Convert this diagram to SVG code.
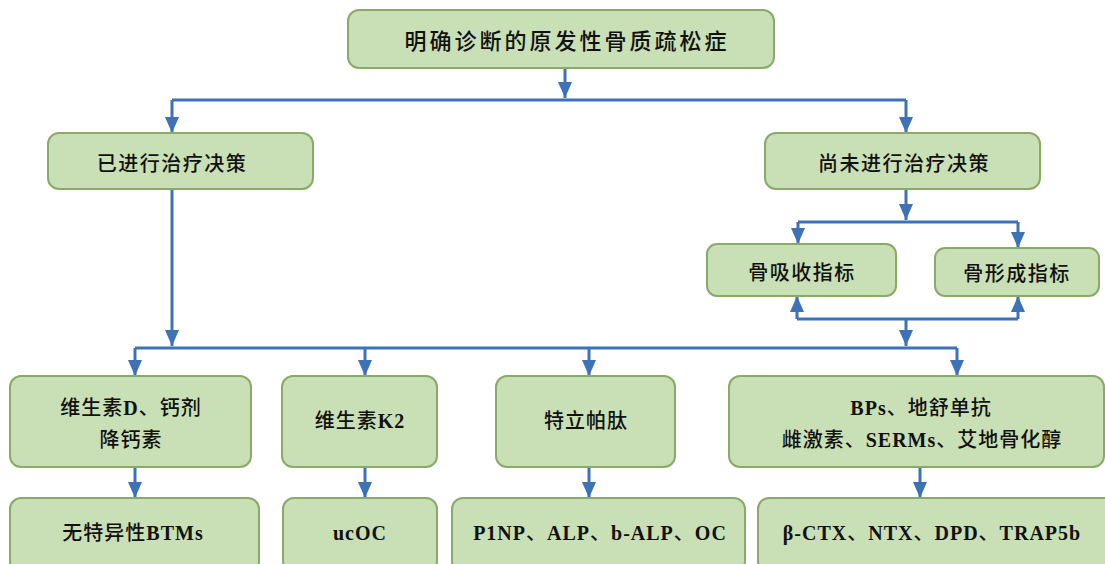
<svg xmlns="http://www.w3.org/2000/svg" width="1105" height="564" viewBox="0 0 1105 564">
<defs>
<style>
.box{fill:#c9dfb5;stroke:#8aaa69;stroke-width:2}
.t{font-family:"Liberation Serif","Noto Sans CJK SC",serif;font-size:20px;fill:#111;text-anchor:middle;dominant-baseline:central;letter-spacing:1px;font-weight:500}
.h{font-family:"Noto Sans CJK SC","Liberation Sans",sans-serif;font-size:20px;fill:#111;text-anchor:middle;dominant-baseline:central;letter-spacing:1.5px;font-weight:500}
.b{font-weight:bold}
.c{fill:none;stroke:#3d73b6;stroke-width:3}
</style>
<marker id="ah" markerUnits="userSpaceOnUse" markerWidth="14" markerHeight="16" viewBox="0 0 14 16" refX="7" refY="16" orient="auto-start-reverse">
<path d="M0,0 L14,0 L7,16 Z" fill="#3d73b6" transform="rotate(0)"/>
</marker>
<marker id="ar" markerUnits="userSpaceOnUse" markerWidth="16" markerHeight="14" viewBox="0 0 16 14" refX="16" refY="7" orient="auto">
<path d="M0,0 L16,7 L0,14 Z" fill="#3d73b6"/>
</marker>
</defs>
<rect width="1105" height="564" fill="#ffffff"/>
<g id="connectors">
<path class="c" d="M565,68 V98" marker-end="url(#ar)"/>
<path class="c" d="M172,100 H906"/>
<path class="c" d="M172,100 V133" marker-end="url(#ar)"/>
<path class="c" d="M906,100 V133" marker-end="url(#ar)"/>
<path class="c" d="M906,189 V220" marker-end="url(#ar)"/>
<path class="c" d="M798,222 H1018"/>
<path class="c" d="M798,222 V244" marker-end="url(#ar)"/>
<path class="c" d="M1018,222 V248" marker-end="url(#ar)"/>
<path class="c" d="M797,319 H1018"/>
<path class="c" d="M797,319 V296" marker-end="url(#ar)"/>
<path class="c" d="M1018,319 V296" marker-end="url(#ar)"/>
<path class="c" d="M906,319 V346" marker-end="url(#ar)"/>
<path class="c" d="M172,189 V346" marker-end="url(#ar)"/>
<path class="c" d="M135,348 H957"/>
<path class="c" d="M135,348 V376" marker-end="url(#ar)"/>
<path class="c" d="M365,348 V376" marker-end="url(#ar)"/>
<path class="c" d="M589,348 V376" marker-end="url(#ar)"/>
<path class="c" d="M957,348 V376" marker-end="url(#ar)"/>
<path class="c" d="M135,467 V498" marker-end="url(#ar)"/>
<path class="c" d="M365,467 V498" marker-end="url(#ar)"/>
<path class="c" d="M589,467 V498" marker-end="url(#ar)"/>
<path class="c" d="M920,467 V498" marker-end="url(#ar)"/>
</g>
<g id="n_root"><rect class="box" x="348" y="10" width="426" height="58" rx="11"/><text class="h" x="567" y="39" style="font-size:22px;letter-spacing:3px">明确诊断的原发性骨质疏松症</text></g>
<g id="n_treated"><rect class="box" x="48" y="133" width="265" height="56" rx="11"/><text class="h" x="172" y="162">已进行治疗决策</text></g>
<g id="n_untreated"><rect class="box" x="765" y="133" width="275" height="56" rx="11"/><text class="h" x="904" y="162">尚未进行治疗决策</text></g>
<g id="n_resorb"><rect class="box" x="707" y="244" width="189" height="52" rx="10"/><text class="h" x="802" y="271">骨吸收指标</text></g>
<g id="n_form"><rect class="box" x="935" y="248" width="164" height="48" rx="10"/><text class="h" x="1017" y="272">骨形成指标</text></g>
<g id="n_vitd"><rect class="box" x="10" y="376" width="241" height="91" rx="11"/><text class="t" x="131" y="408">维生素<tspan class="b">D</tspan>、钙剂</text><text class="t" x="131" y="440">降钙素</text></g>
<g id="n_vitk"><rect class="box" x="282" y="376" width="155" height="91" rx="11"/><text class="t" x="360" y="421">维生素<tspan class="b">K2</tspan></text></g>
<g id="n_teri"><rect class="box" x="496" y="376" width="179" height="91" rx="11"/><text class="t" x="586" y="421">特立帕肽</text></g>
<g id="n_bps"><rect class="box" x="729" y="376" width="375" height="91" rx="11"/><text class="t" x="921" y="408"><tspan class="b">BPs</tspan>、地舒单抗</text><text class="t" x="922" y="440">雌激素、<tspan class="b">SERMs</tspan>、艾地骨化醇</text></g>
<g id="n_btm"><rect class="box" x="10" y="498" width="249" height="74" rx="11"/><text class="t" x="133" y="533">无特异性<tspan class="b">BTMs</tspan></text></g>
<g id="n_ucoc"><rect class="box" x="283" y="498" width="154" height="74" rx="11"/><text class="t" x="360" y="533"><tspan class="b">ucOC</tspan></text></g>
<g id="n_p1np"><rect class="box" x="452" y="498" width="293" height="74" rx="11"/><text class="t" x="600" y="533"><tspan class="b">P1NP</tspan>、<tspan class="b">ALP</tspan>、<tspan class="b">b-ALP</tspan>、<tspan class="b">OC</tspan></text></g>
<g id="n_ctx"><rect class="box" x="758" y="498" width="360" height="74" rx="11"/><text class="t" x="932" y="533"><tspan class="b">β-CTX</tspan>、<tspan class="b">NTX</tspan>、<tspan class="b">DPD</tspan>、<tspan class="b">TRAP5b</tspan></text></g>
</svg>
